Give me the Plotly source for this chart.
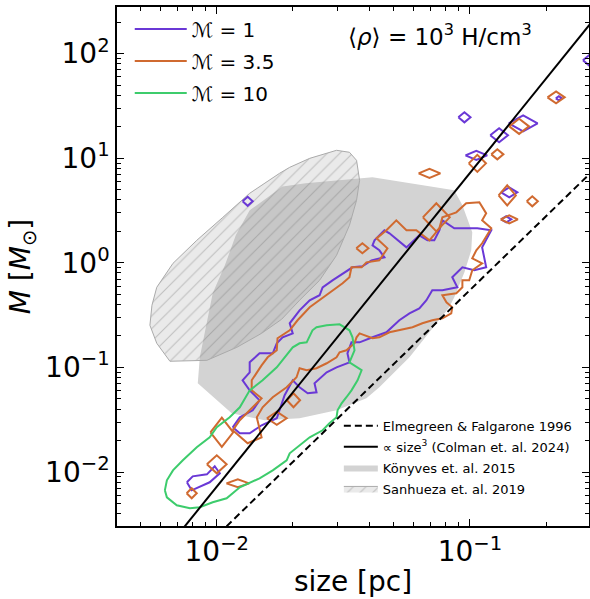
import numpy as np
import plotly.graph_objects as go

# ---------------- data (log10 size [pc], log10 mass [Msun]) ----------------
X_RANGE = [-2.394, -0.53]
Y_RANGE = [-2.516, 2.446]

konyves_logsize = [-1.649, -1.740, -1.870, -1.925, -1.968, -2.016, -2.067, -2.075, -1.941, -1.811,
                   -1.673, -1.527, -1.409, -1.358, -1.239, -1.121, -1.082, -1.062, -1.022, -0.995,
                   -0.991, -1.030, -1.062, -1.385, -1.649]
konyves_logmass = [0.760, 0.731, 0.502, 0.263, -0.024, -0.291, -0.903, -1.152, -1.439, -1.505,
                   -1.486, -1.410, -1.295, -1.190, -0.903, -0.549, -0.425, -0.330, -0.091, 0.120,
                   0.292, 0.550, 0.693, 0.818, 0.760]

sanhueza_logsize = [-2.185, -2.039, -1.921, -1.823, -1.744, -1.673, -1.594, -1.527, -1.476, -1.448,
                    -1.436, -1.448, -1.476, -1.527, -1.633, -1.712, -1.752, -1.870, -1.976, -2.079,
                    -2.173, -2.237, -2.256, -2.264, -2.237, -2.185]
sanhueza_logmass = [-0.941, -0.932, -0.808, -0.674, -0.540, -0.358, -0.167, 0.072, 0.359, 0.598,
                    0.789, 0.980, 1.057, 1.076, 0.999, 0.913, 0.856, 0.665, 0.435, 0.215,
                    -0.005, -0.234, -0.406, -0.597, -0.769, -0.941]

# Mach 1 contour (main loop + lower-left loop)
mach1_main_logsize = [-1.937, -1.909, -1.858, -1.831, -1.870, -1.898, -1.870, -1.870, -1.831, -1.779,
                      -1.763, -1.740, -1.700, -1.712, -1.673, -1.633, -1.594, -1.582, -1.543, -1.503,
                      -1.464, -1.425, -1.389, -1.338, -1.358, -1.385, -1.377, -1.338, -1.318, -1.251,
                      -1.200, -1.168, -1.141, -1.121, -1.109, -1.062, -0.971, -0.916, -0.952, -0.936,
                      -0.983, -1.030, -1.070, -1.050, -1.109, -1.149, -1.172, -1.200, -1.239, -1.279,
                      -1.330, -1.385, -1.436, -1.468, -1.484, -1.476, -1.527, -1.566, -1.594, -1.614,
                      -1.606, -1.641, -1.673, -1.700, -1.732, -1.763, -1.823, -1.870, -1.909, -1.937]
mach1_main_logmass = [-1.572, -1.477, -1.410, -1.314, -1.219, -1.123, -1.047, -0.951, -0.865, -0.865,
                      -0.769, -0.712, -0.674, -0.578, -0.454, -0.358, -0.310, -0.234, -0.167, -0.100,
                      -0.043, -0.033, 0.024, 0.053, 0.120, 0.167, 0.215, 0.311, 0.282, 0.148,
                      0.263, 0.215, 0.215, 0.311, 0.406, 0.330, 0.330, 0.311, 0.148, -0.043,
                      -0.071, -0.043, -0.138, -0.234, -0.263, -0.263, -0.358, -0.435, -0.483, -0.549,
                      -0.664, -0.712, -0.760, -0.760, -0.865, -0.951, -0.999, -1.047, -1.104, -1.152,
                      -1.238, -1.247, -1.190, -1.123, -1.266, -1.486, -1.553, -1.630, -1.630, -1.572]
mach1_low_logsize = [-2.118, -2.095, -2.039, -2.008, -1.988, -2.028, -2.099, -2.118]
mach1_low_logmass = [-2.098, -2.041, -2.022, -1.945, -2.012, -2.098, -2.175, -2.098]
# small closed Mach 1 contours: centre and half extent (decades)
mach1_blob_logsize = [-1.878, -1.022, -0.885, -0.975, -0.790, -0.845, -0.530, -0.857, -0.649]
mach1_blob_logmass = [0.588, 1.391, 1.219, 1.028, 1.334, 0.674, 1.936, 0.416, 1.573]
mach1_blob_dsize = [0.020, 0.024, 0.035, 0.043, 0.057, 0.032, 0.024, 0.020, 0.012]
mach1_blob_dmass = [0.043, 0.048, 0.067, 0.043, 0.076, 0.048, 0.048, 0.029, 0.020]

# Mach 3.5 contour
mach35_main_logsize = [-1.937, -1.909, -1.870, -1.823, -1.862, -1.862, -1.823, -1.799, -1.763, -1.760,
                       -1.712, -1.681, -1.633, -1.594, -1.543, -1.503, -1.476, -1.468, -1.428, -1.409,
                       -1.358, -1.326, -1.369, -1.330, -1.291, -1.251, -1.212, -1.160, -1.121, -1.109,
                       -1.054, -1.015, -0.963, -0.936, -0.952, -0.916, -0.952, -0.975, -0.991, -0.952,
                       -0.991, -1.003, -1.030, -1.030, -1.054, -1.109, -1.093, -1.070, -1.074, -1.109,
                       -1.149, -1.188, -1.227, -1.279, -1.318, -1.358, -1.385, -1.436, -1.448, -1.456,
                       -1.488, -1.515, -1.527, -1.566, -1.606, -1.645, -1.673, -1.685, -1.724, -1.779,
                       -1.819, -1.842, -1.823, -1.878, -1.937]
mach35_main_logmass = [-1.601, -1.505, -1.410, -1.295, -1.219, -1.123, -0.980, -0.903, -0.836, -0.721,
                       -0.645, -0.549, -0.425, -0.358, -0.263, -0.196, -0.138, -0.043, -0.043, 0.005,
                       0.024, 0.139, 0.234, 0.311, 0.406, 0.311, 0.311, 0.215, 0.330, 0.435,
                       0.483, 0.569, 0.579, 0.473, 0.406, 0.330, 0.187, 0.120, 0.043, -0.005,
                       -0.071, -0.167, -0.167, -0.234, -0.291, -0.310, -0.377, -0.425, -0.483, -0.530,
                       -0.549, -0.578, -0.616, -0.645, -0.664, -0.712, -0.721, -0.674, -0.712, -0.769,
                       -0.836, -0.855, -0.903, -0.960, -1.008, -1.027, -1.008, -1.094, -1.190, -1.285,
                       -1.381, -1.477, -1.668, -1.725, -1.601]
mach35_blob_logsize = [-1.160, -1.425, -0.660, -0.806, -0.892, -0.971, -0.853, -0.754, -0.845,
                       -2.000, -1.917, -2.099, -1.697, -1.763, -1.980, -1.133]
mach35_blob_logmass = [0.856, 0.139, 1.582, 1.305, 1.037, 0.951, 0.645, 0.588, 0.416,
                       -1.926, -2.108, -2.203, -1.314, -1.486, -1.620, 0.435]
mach35_blob_dsize = [0.043, 0.024, 0.034, 0.039, 0.024, 0.034, 0.034, 0.022, 0.034,
                     0.039, 0.045, 0.020, 0.026, 0.039, 0.045, 0.053]
mach35_blob_dmass = [0.043, 0.048, 0.057, 0.072, 0.048, 0.081, 0.096, 0.048, 0.038,
                     0.086, 0.038, 0.048, 0.067, 0.062, 0.139, 0.134]

# Mach 10 contour
mach10_logsize = [-2.205, -2.197, -2.173, -2.134, -2.079, -2.028, -2.000, -1.949, -1.909, -1.870,
                  -1.819, -1.763, -1.700, -1.673, -1.645, -1.622, -1.606, -1.566, -1.515, -1.476,
                  -1.464, -1.456, -1.476, -1.428, -1.444, -1.468, -1.488, -1.507, -1.523, -1.527,
                  -1.555, -1.582, -1.633, -1.685, -1.712, -1.724, -1.779, -1.831, -1.909, -1.961,
                  -2.016, -2.067, -2.106, -2.158, -2.197, -2.205]
mach10_logmass = [-2.175, -2.079, -1.984, -1.888, -1.763, -1.668, -1.572, -1.477, -1.381, -1.219,
                  -1.123, -0.999, -0.808, -0.769, -0.760, -0.645, -0.616, -0.597, -0.588, -0.645,
                  -0.712, -0.836, -0.951, -1.027, -1.123, -1.219, -1.285, -1.343, -1.410, -1.477,
                  -1.534, -1.601, -1.668, -1.763, -1.821, -1.888, -1.984, -2.060, -2.146, -2.251,
                  -2.289, -2.337, -2.347, -2.318, -2.242, -2.175]

# reference relations
line_size = [0.004, 0.3]
colman_log_norm = 3.86          # M = 10**3.86 * size^3
colman_slope = 3.0
elmegreen_log_m01 = -0.26       # log M at size = 0.1 pc
elmegreen_slope = 2.35

x_tickvals = [0.01, 0.1]
x_ticktext = ["10<sup>\u22122</sup>", "10<sup>\u22121</sup>"]
y_tickvals = [0.01, 0.1, 1, 10, 100]
y_ticktext = ["10<sup>\u22122</sup>", "10<sup>\u22121</sup>", "10<sup>0</sup>",
              "10<sup>1</sup>", "10<sup>2</sup>"]

PURPLE = "#6a38d6"
ORANGE = "#d06a30"
GREEN = "#3dcc6c"
FONT = "DejaVu Sans"


def pw(v):
    return [None if a is None else 10 ** a for a in v]


def loops(main_list, cs, cm, ds, dm):
    xs, ys = [], []
    for lx, ly in main_list:
        xs += list(lx) + [None]
        ys += list(ly) + [None]
    for a, b, da, db in zip(cs, cm, ds, dm):
        xs += [a - da, a, a + da, a, a - da, None]
        ys += [b, b + db, b, b - db, b, None]
    return pw(xs), pw(ys)


fig = go.Figure()

# Könyves region
fig.add_trace(go.Scatter(x=pw(konyves_logsize), y=pw(konyves_logmass), fill="toself",
                         fillcolor="#d3d3d3", mode="lines", line=dict(width=0, color="#d3d3d3"),
                         name="Könyves et. al. 2015", legend="legend2", legendrank=3,
                         legendgroup="k", hoverinfo="skip"))
# Sanhueza region (hatched)
fig.add_trace(go.Scatter(x=pw(sanhueza_logsize), y=pw(sanhueza_logmass), fill="toself",
                         fillcolor="rgba(150,150,150,0.2)",
                         fillpattern=dict(shape="/", bgcolor="rgba(150,150,150,0.2)",
                                          fgcolor="rgba(120,120,120,0.75)", size=9, solidity=0.12),
                         mode="lines", line=dict(width=1, color="#aaaaaa"),
                         name="Sanhueza et. al. 2019", legend="legend2", legendrank=4,
                         legendgroup="s", hoverinfo="skip"))

# contours
mx, my = loops([(mach1_main_logsize, mach1_main_logmass), (mach1_low_logsize, mach1_low_logmass)],
               mach1_blob_logsize, mach1_blob_logmass, mach1_blob_dsize, mach1_blob_dmass)
fig.add_trace(go.Scatter(x=mx, y=my, mode="lines", line=dict(color=PURPLE, width=2),
                         name="\u2133 = 1", legend="legend", legendrank=1, legendgroup="m1",
                         connectgaps=False))
ox, oy = loops([(mach35_main_logsize, mach35_main_logmass)],
               mach35_blob_logsize, mach35_blob_logmass, mach35_blob_dsize, mach35_blob_dmass)
fig.add_trace(go.Scatter(x=ox, y=oy, mode="lines", line=dict(color=ORANGE, width=2),
                         name="\u2133 = 3.5", legend="legend", legendrank=2, legendgroup="m35",
                         connectgaps=False))
fig.add_trace(go.Scatter(x=pw(mach10_logsize), y=pw(mach10_logmass), mode="lines",
                         line=dict(color=GREEN, width=2),
                         name="\u2133 = 10", legend="legend", legendrank=3, legendgroup="m10"))

# reference lines
ls = np.array(line_size)
fig.add_trace(go.Scatter(x=ls, y=10 ** elmegreen_log_m01 * (ls / 0.1) ** elmegreen_slope,
                         mode="lines", line=dict(color="black", width=2, dash="7px,4px"),
                         name="Elmegreen & Falgarone 1996", legend="legend2", legendrank=1,
                         legendgroup="e"))
fig.add_trace(go.Scatter(x=ls, y=10 ** colman_log_norm * ls ** colman_slope,
                         mode="lines", line=dict(color="black", width=2),
                         name="\u221d size<sup>3</sup> (Colman et. al. 2024)", legend="legend2",
                         legendrank=2, legendgroup="c"))

minor_x = [m * 10.0 ** e for e in range(-3, 0) for m in range(2, 10)]
minor_y = [m * 10.0 ** e for e in range(-3, 3) for m in range(2, 10)]

axis_common = dict(type="log", showline=True, linecolor="black", linewidth=1.5, mirror="allticks",
                   ticks="inside", ticklen=7, tickwidth=1.2, tickcolor="black", showgrid=False,
                   zeroline=False, tickmode="array", automargin=False,
                   tickfont=dict(size=28, family=FONT, color="black"),
                   minor=dict(ticks="inside", ticklen=4, tickwidth=1, tickcolor="black",
                              showgrid=False, tickmode="array"))

fig.update_xaxes(**axis_common, range=X_RANGE, tickvals=x_tickvals, ticktext=x_ticktext,
                 title=dict(text="size [pc]", font=dict(size=28, family=FONT), standoff=4))
fig.update_xaxes(minor_tickvals=minor_x)
fig.update_yaxes(**axis_common, range=Y_RANGE, tickvals=y_tickvals, ticktext=y_ticktext,
                 title=dict(text="<i>M</i> [<i>M</i><sub>\u2299</sub>]",
                            font=dict(size=28, family=FONT), standoff=6))
fig.update_yaxes(minor_tickvals=minor_y)

fig.add_annotation(text="\u27e8<i>\u03c1</i>\u27e9 = 10<sup>3</sup> H/cm<sup>3</sup>",
                   xref="paper", yref="paper", x=0.684, y=0.947, xanchor="center",
                   yanchor="middle", showarrow=False,
                   font=dict(size=23, family=FONT, color="black"))

fig.update_layout(
    width=590, height=599, autosize=False,
    margin=dict(l=117, r=1, t=7, b=73),
    plot_bgcolor="white", paper_bgcolor="white",
    font=dict(family=FONT, color="black"),
    showlegend=True,
    legend=dict(x=0.027, y=0.995, xanchor="left", yanchor="top", bgcolor="rgba(0,0,0,0)",
                font=dict(size=20, family=FONT), tracegroupgap=3, traceorder="grouped",
                itemwidth=52),
    legend2=dict(x=0.470, y=0.222, xanchor="left", yanchor="top", bgcolor="rgba(0,0,0,0)",
                 font=dict(size=13, family=FONT), tracegroupgap=1, traceorder="grouped",
                 itemwidth=34),
)

fig.write_html(
    "out.html",
    config={"displayModeBar": False},
    post_script=("document.body.style.margin='0';document.body.style.overflow='hidden';"
                 "var gd=document.getElementById('{plot_id}');"
                 "Plotly.relayout(gd,{width:590,height:599});"),
)
